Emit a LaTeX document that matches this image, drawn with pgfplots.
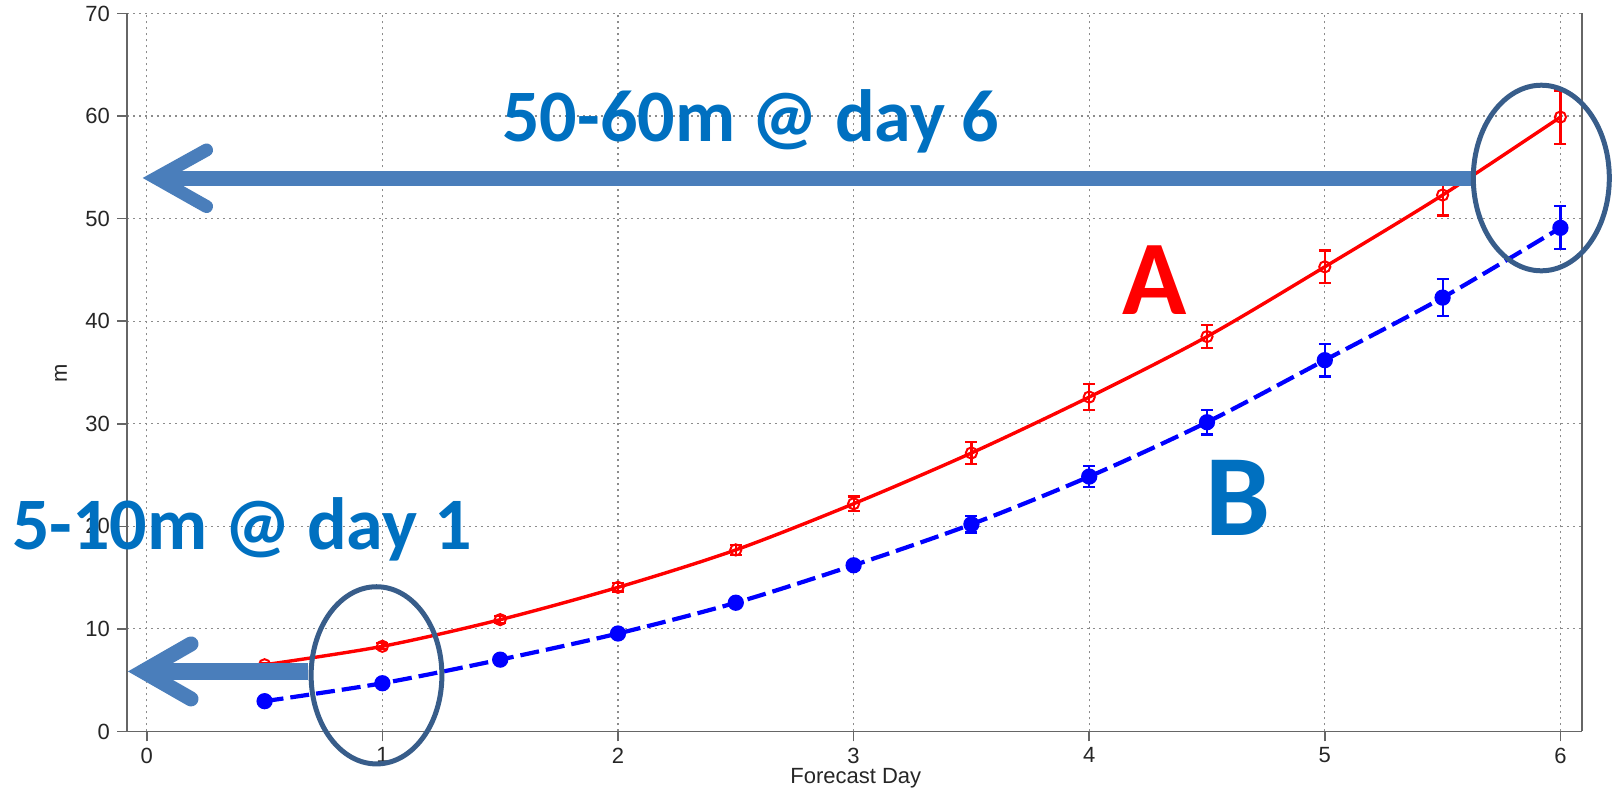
\documentclass[border=0pt]{standalone}
\usepackage{fontspec}
\setmainfont{Liberation Sans}
\newfontfamily\calibri{Carlito}
\usepackage{pgfplots}
\pgfplotsset{compat=1.18}
\definecolor{txtblue}{HTML}{0070C0}
\definecolor{arrowblue}{HTML}{4A7EBB}
\definecolor{ellblue}{HTML}{385D8A}
\definecolor{gridgray}{HTML}{8C8C8C}
\definecolor{axgray}{HTML}{666666}
\begin{document}
\begin{tikzpicture}
\begin{axis}[
  scale only axis, width=727.35pt, height=359pt,
  xmin=-0.084, xmax=6.09, ymin=0, ymax=70,
  axis x line*=bottom, axis y line*=box,
  ytick pos=left,
  xtick={0,1,2,3,4,5,6}, ytick={0,10,20,30,40,50,60,70},
  tick align=outside, major tick length=5pt,
  tick style={axgray, line width=0.8pt},
  axis line style={axgray, line width=0.9pt},
  grid=major,
  major grid style={gridgray, line width=0.6pt, dash pattern=on 1pt off 2pt},
  /pgf/number format/assume math mode=true,
  ticklabel style={font=\fontsize{11}{12}\selectfont, text=black!85},
  xticklabel style={inner sep=0pt, yshift=-3pt},
  xlabel={Forecast Day}, ylabel={m},
  xlabel style={at={(axis description cs:0.501,-0.0655)}, anchor=center, inner sep=0pt, font=\fontsize{11}{12}\selectfont, text=black!85},
  ylabel style={at={(axis description cs:-0.0454,0.4993)}, anchor=center, inner sep=0pt, font=\fontsize{11}{12}\selectfont, text=black!85},
]
\addplot[red, line width=1.7pt, smooth, mark=o, mark size=2.8pt, mark options={line width=1pt},
  error bars/.cd, y dir=both, y explicit, error bar style={line width=1.1pt},
  error mark=-, error mark options={rotate=90, mark size=3pt, line width=1.1pt}]
coordinates {
 (0.5,6.5) +- (0,0.2)
 (1,8.3) +- (0,0.3)
 (1.5,10.9) +- (0,0.35)
 (2,14.05) +- (0,0.4)
 (2.5,17.7) +- (0,0.5)
 (3,22.2) +- (0,0.7)
 (3.5,27.15) +- (0,1.05)
 (4,32.6) +- (0,1.25)
 (4.5,38.5) +- (0,1.1)
 (5,45.3) +- (0,1.6)
 (5.5,52.3) +- (0,2.0)
 (6,59.9) +- (0,2.6)
};
\addplot[blue, line width=2.1pt, dash pattern=on 9.5pt off 3.5pt, smooth, mark=*, mark size=3pt,
  mark options={solid, fill=blue},
  error bars/.cd, y dir=both, y explicit, error bar style={solid, line width=1.1pt},
  error mark=-, error mark options={rotate=90, solid, mark size=3pt, line width=1.1pt}]
coordinates {
 (0.5,2.95) +- (0,0.15)
 (1,4.7) +- (0,0.2)
 (1.5,7.0) +- (0,0.25)
 (2,9.55) +- (0,0.3)
 (2.5,12.55) +- (0,0.35)
 (3,16.2) +- (0,0.45)
 (3.5,20.2) +- (0,0.8)
 (4,24.85) +- (0,1.0)
 (4.5,30.15) +- (0,1.2)
 (5,36.2) +- (0,1.6)
 (5.5,42.3) +- (0,1.8)
 (6,49.1) +- (0,2.1)
};
% annotation anchors
\coordinate (bbl) at (axis cs:-0.6231,-5.703);
\coordinate (btr) at (axis cs:6.2233,71.317);
\coordinate (t1) at (axis cs:2.564,57.50);
\coordinate (t2) at (axis cs:0.403,17.70);
\coordinate (tA) at (axis cs:4.279,40.70);
\coordinate (tB) at (axis cs:4.633,19.06);
\coordinate (av) at (axis cs:0.039,53.96);
\coordinate (ab1) at (axis cs:0.2534,56.69);
\coordinate (ab2) at (axis cs:0.2534,51.18);
\coordinate (as) at (axis cs:0.07,53.96);
\coordinate (ae) at (axis cs:5.624,53.96);
\coordinate (bv) at (axis cs:-0.016,5.85);
\coordinate (bb1) at (axis cs:0.1876,8.53);
\coordinate (bb2) at (axis cs:0.1876,3.17);
\coordinate (bs) at (axis cs:0.02,5.85);
\coordinate (be) at (axis cs:0.6855,5.85);
\coordinate (e1) at (axis cs:0.975,5.47);
\coordinate (e2) at (axis cs:5.919,53.96);
\end{axis}
\node[anchor=base, inner sep=0pt, text=txtblue, font=\calibri\bfseries\fontsize{37}{40}\selectfont] at (t1) {50-60m @ day 6};
\node[anchor=base, inner sep=0pt, text=txtblue, font=\calibri\bfseries\fontsize{37}{40}\selectfont] at (t2) {5-10m @ day 1};
\node[anchor=base, inner sep=0pt, text=red, font=\calibri\bfseries\fontsize{53}{56}\selectfont] at (tA) {A};
\node[anchor=base, inner sep=0pt, text=txtblue, font=\calibri\bfseries\fontsize{58}{60}\selectfont] at (tB) {B};
\draw[arrowblue, line width=7.5pt] (as) -- (ae);
\draw[arrowblue, line width=6.5pt, line cap=round, line join=miter] (ab1) -- (av) -- (ab2);
\draw[arrowblue, line width=8.3pt] (bs) -- (be);
\draw[arrowblue, line width=7.5pt, line cap=round, line join=miter] (bb1) -- (bv) -- (bb2);
\draw[ellblue, line width=2.5pt] (e1) ellipse [x radius=32.7pt, y radius=44.3pt];
\draw[ellblue, line width=2.5pt] (e2) ellipse [x radius=34pt, y radius=46.4pt];
\pgfresetboundingbox
\path[use as bounding box] (bbl) rectangle (btr);
\end{tikzpicture}
\end{document}
